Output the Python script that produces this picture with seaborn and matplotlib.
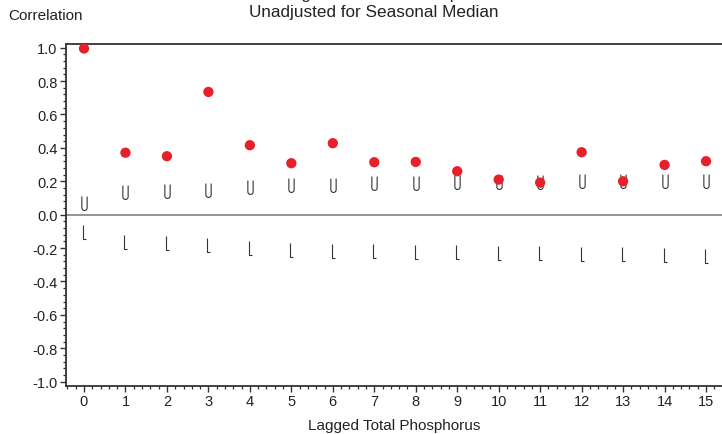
import numpy as np
import pandas as pd
import matplotlib
matplotlib.use("Agg")
import matplotlib.pyplot as plt
from matplotlib.path import Path
from matplotlib.ticker import MultipleLocator
import seaborn as sns

# lags and correlation values
lags = list(range(16))
correlation = [0.995, 0.371, 0.350, 0.735, 0.416, 0.308, 0.428, 0.314,
               0.316, 0.260, 0.210, 0.192, 0.374, 0.200, 0.298, 0.320]
upper_bound = [0.070, 0.134, 0.140, 0.146, 0.166, 0.178, 0.178, 0.188,
               0.188, 0.194, 0.194, 0.198, 0.200, 0.200, 0.204, 0.204]
lower_bound = [-0.105, -0.165, -0.171, -0.180, -0.200, -0.210, -0.216, -0.216,
               -0.225, -0.225, -0.229, -0.229, -0.235, -0.235, -0.241, -0.246]
y_ticks = [-1.0, -0.8, -0.6, -0.4, -0.2, 0.0, 0.2, 0.4, 0.6, 0.8, 1.0]

df = pd.DataFrame({"lag": lags, "corr": correlation,
                   "upper": upper_bound, "lower": lower_bound})


def u_marker():
    # tall narrow "U" glyph as a marker path
    w, h = 0.38, 1.0
    theta = np.linspace(np.pi, 2 * np.pi, 20)
    arc = np.column_stack([w * np.cos(theta), -h + w + w * np.sin(theta)])
    verts = np.vstack([[-w, h], arc, [w, h]])
    return Path(verts)


def l_marker():
    verts = [(-0.2, 1.0), (-0.2, -1.0), (0.3, -1.0)]
    return Path(verts)


sns.set_style("ticks")
plt.rcParams["font.family"] = ["Liberation Sans", "DejaVu Sans"]

fig = plt.figure(figsize=(7.22, 4.35), dpi=100)
ax = fig.add_axes([66 / 722, 48 / 435, 656 / 722, 342 / 435])

ax.axhline(0, color="#8a8a8a", lw=1.3, zorder=1)

ax.plot(df["lag"], df["upper"], ls="none", marker=u_marker(), ms=10,
        mfc="none", mec="#333333", mew=0.8, zorder=2)
ax.plot(df["lag"], df["lower"], ls="none", marker=l_marker(), ms=9.5,
        mfc="none", mec="#333333", mew=0.8, zorder=2)
sns.scatterplot(data=df, x="lag", y="corr", color="#e8202a", s=55,
                edgecolor="none", ax=ax, zorder=3)

ax.set_xlim(-0.434, 15.385)
ax.set_ylim(-1.026, 1.022)
ax.set_xticks(lags)
ax.set_yticks(y_ticks)
ax.set_yticklabels([f"{v:.1f}" for v in y_ticks])
ax.xaxis.set_minor_locator(MultipleLocator(0.2))
ax.yaxis.set_minor_locator(MultipleLocator(0.04))
ax.tick_params(which="major", length=4, width=1, color="#333333",
               labelsize=10.5, pad=2, labelcolor="#222222")
ax.tick_params(which="minor", length=2.2, width=0.9, color="#333333")

for side in ["left", "bottom", "top"]:
    ax.spines[side].set_color("#333333")
    ax.spines[side].set_linewidth(1.3)
ax.spines["right"].set_visible(False)

ax.set_xlabel("Lagged Total Phosphorus", fontsize=11, labelpad=7, color="#222222")
ax.set_ylabel("")

fig.text(8 / 722, 1 - 16 / 435, "Correlation", fontsize=11, ha="left",
         va="center", color="#222222")
# first title line sits mostly above the canvas, as in the source image
fig.text(374 / 722, 1 + 5 / 435, "Correlogram for Total Phosphorus",
         fontsize=12.3, ha="center", va="center", color="#222222")
fig.text(374 / 722, 1 - 13 / 435, "Unadjusted for Seasonal Median",
         fontsize=12.3, ha="center", va="center", color="#222222")

fig.savefig("out.png", dpi=100)
plt.close(fig)
